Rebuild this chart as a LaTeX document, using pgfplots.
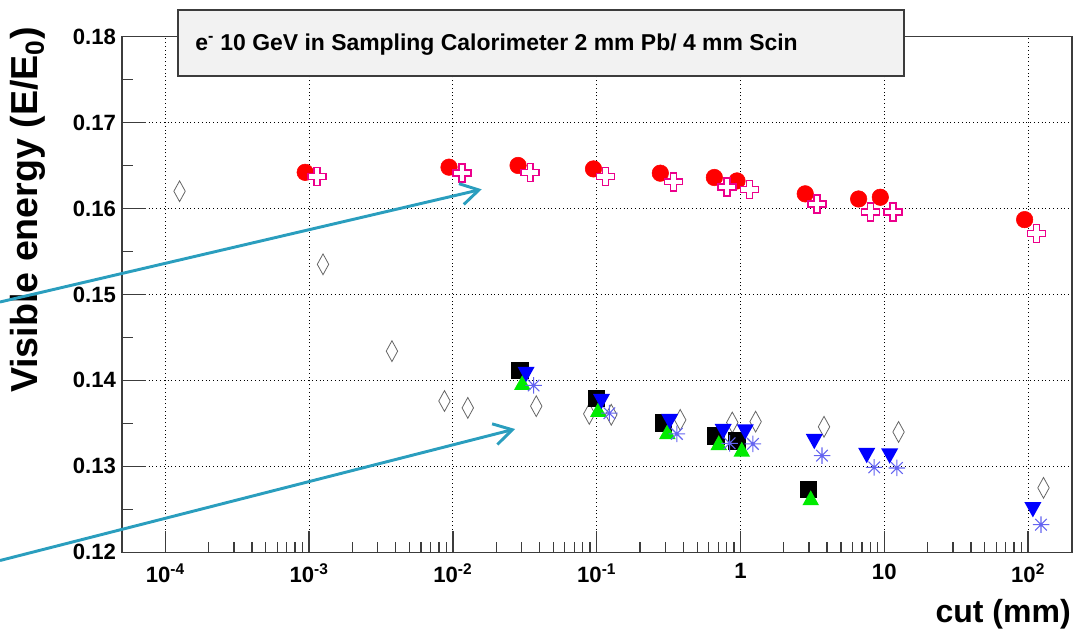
\documentclass[border=0pt]{standalone}
\usepackage{fontspec}
\setmainfont{Liberation Sans}
\usepackage{pgfplots}
\pgfplotsset{compat=1.18}
\usetikzlibrary{arrows.meta}

\definecolor{axgray}{RGB}{60,60,60}
\definecolor{starblue}{RGB}{100,100,240}
\definecolor{arrowcyan}{RGB}{42,158,190}
\definecolor{boxfill}{RGB}{242,242,242}

% open diamond, taller than wide
\pgfdeclareplotmark{tdiamond}{%
  \pgfpathmoveto{\pgfqpoint{0pt}{\pgfplotmarksize}}%
  \pgfpathlineto{\pgfqpoint{0.55\pgfplotmarksize}{0pt}}%
  \pgfpathlineto{\pgfqpoint{0pt}{-\pgfplotmarksize}}%
  \pgfpathlineto{\pgfqpoint{-0.55\pgfplotmarksize}{0pt}}%
  \pgfpathclose\pgfusepathqstroke}
% open plus-shaped cross
\pgfdeclareplotmark{ocross}{%
  \pgfpathmoveto{\pgfqpoint{0.33\pgfplotmarksize}{\pgfplotmarksize}}%
  \pgfpathlineto{\pgfqpoint{0.33\pgfplotmarksize}{0.33\pgfplotmarksize}}%
  \pgfpathlineto{\pgfqpoint{\pgfplotmarksize}{0.33\pgfplotmarksize}}%
  \pgfpathlineto{\pgfqpoint{\pgfplotmarksize}{-0.33\pgfplotmarksize}}%
  \pgfpathlineto{\pgfqpoint{0.33\pgfplotmarksize}{-0.33\pgfplotmarksize}}%
  \pgfpathlineto{\pgfqpoint{0.33\pgfplotmarksize}{-\pgfplotmarksize}}%
  \pgfpathlineto{\pgfqpoint{-0.33\pgfplotmarksize}{-\pgfplotmarksize}}%
  \pgfpathlineto{\pgfqpoint{-0.33\pgfplotmarksize}{-0.33\pgfplotmarksize}}%
  \pgfpathlineto{\pgfqpoint{-\pgfplotmarksize}{-0.33\pgfplotmarksize}}%
  \pgfpathlineto{\pgfqpoint{-\pgfplotmarksize}{0.33\pgfplotmarksize}}%
  \pgfpathlineto{\pgfqpoint{-0.33\pgfplotmarksize}{0.33\pgfplotmarksize}}%
  \pgfpathlineto{\pgfqpoint{-0.33\pgfplotmarksize}{\pgfplotmarksize}}%
  \pgfpathclose\pgfusepathqfillstroke}
% eight-spoke asterisk with a small centre dot
\pgfdeclareplotmark{star8}{%
  \pgfpathmoveto{\pgfqpoint{-\pgfplotmarksize}{0pt}}\pgfpathlineto{\pgfqpoint{\pgfplotmarksize}{0pt}}%
  \pgfpathmoveto{\pgfqpoint{0pt}{-\pgfplotmarksize}}\pgfpathlineto{\pgfqpoint{0pt}{\pgfplotmarksize}}%
  \pgfpathmoveto{\pgfqpoint{-0.7\pgfplotmarksize}{-0.7\pgfplotmarksize}}\pgfpathlineto{\pgfqpoint{0.7\pgfplotmarksize}{0.7\pgfplotmarksize}}%
  \pgfpathmoveto{\pgfqpoint{-0.7\pgfplotmarksize}{0.7\pgfplotmarksize}}\pgfpathlineto{\pgfqpoint{0.7\pgfplotmarksize}{-0.7\pgfplotmarksize}}%
  \pgfusepathqstroke
  \pgfpathcircle{\pgfpointorigin}{0.2\pgfplotmarksize}\pgfusepathqfill}
% filled triangles, up and down
\pgfdeclareplotmark{tup}{%
  \pgfpathmoveto{\pgfqpoint{-\pgfplotmarksize}{-0.9\pgfplotmarksize}}%
  \pgfpathlineto{\pgfqpoint{\pgfplotmarksize}{-0.9\pgfplotmarksize}}%
  \pgfpathlineto{\pgfqpoint{0pt}{0.9\pgfplotmarksize}}%
  \pgfpathclose\pgfusepathqfill}
\pgfdeclareplotmark{tdown}{%
  \pgfpathmoveto{\pgfqpoint{-\pgfplotmarksize}{0.9\pgfplotmarksize}}%
  \pgfpathlineto{\pgfqpoint{\pgfplotmarksize}{0.9\pgfplotmarksize}}%
  \pgfpathlineto{\pgfqpoint{0pt}{-0.9\pgfplotmarksize}}%
  \pgfpathclose\pgfusepathqfill}

\begin{document}
\begin{tikzpicture}
\useasboundingbox (0,0) rectangle ({1076*0.75pt},{-633*0.75pt});
% dotted grid layer
\begin{axis}[
  at={({122*0.75pt},{-552.3*0.75pt})}, anchor=south west,
  width={950*0.75pt}, height={515.8*0.75pt}, scale only axis,
  xmode=log, xmin=5e-5, xmax=202, ymin=0.12, ymax=0.18,
  xtick={1e-4,1e-3,1e-2,1e-1,1,10,100},
  ytick={0.12,0.13,0.14,0.15,0.16,0.17,0.18},
  axis line style={draw=none},
  xticklabels={}, yticklabels={},
  xminorticks=false, yminorticks=false,
  major tick length=0pt,
  tick style={draw=none},
  grid=major,
  major grid style={black, line width=0.65pt, dash pattern=on 0.65pt off 2.2pt},
]
\end{axis}
% frame, ticks, labels and data
\begin{axis}[
  at={({122*0.75pt},{-552.3*0.75pt})}, anchor=south west,
  width={950*0.75pt}, height={515.8*0.75pt}, scale only axis,
  xmode=log, xmin=5e-5, xmax=202, ymin=0.12, ymax=0.18,
  xtick={1e-4,1e-3,1e-2,1e-1,1,10,100},
  ytick={0.12,0.13,0.14,0.15,0.16,0.17,0.18},
  axis line style={axgray, line width=1.1pt},
  xticklabels={10\textsuperscript{-4},10\textsuperscript{-3},10\textsuperscript{-2},10\textsuperscript{-1},1,10,10\textsuperscript{2}},
  yticklabels={0.12,0.13,0.14,0.15,0.16,0.17,0.18},
  minor ytick={0.125,0.135,0.145,0.155,0.165,0.175},
  xtick pos=bottom, ytick pos=left, tick align=inside,
  major tick length=16pt, minor tick length=8pt,
  tick style={axgray, line width=1pt, solid},
  tick label style={font=\bfseries\fontsize{16.6}{18}\selectfont, text=black},
  yticklabel style={xshift=-1pt},
  xticklabel style={yshift=-5pt},
  clip=false,
]
% long ticks at the labelled decades and hundredths
\draw[axgray, line width=1pt]
  (axis cs:1e-4,0.12) -- ++(0pt,14.25pt)
  (axis cs:1e-3,0.12) -- ++(0pt,14.25pt)
  (axis cs:1e-2,0.12) -- ++(0pt,14.25pt)
  (axis cs:1e-1,0.12) -- ++(0pt,14.25pt)
  (axis cs:1,0.12) -- ++(0pt,14.25pt)
  (axis cs:10,0.12) -- ++(0pt,14.25pt)
  (axis cs:100,0.12) -- ++(0pt,14.25pt)
  (axis cs:5e-5,0.13) -- ++(18pt,0pt)
  (axis cs:5e-5,0.14) -- ++(18pt,0pt)
  (axis cs:5e-5,0.15) -- ++(18pt,0pt)
  (axis cs:5e-5,0.16) -- ++(18pt,0pt)
  (axis cs:5e-5,0.17) -- ++(18pt,0pt)
  (axis cs:5e-5,0.18) -- ++(18pt,0pt);
% diamonds
\addplot[only marks, mark=tdiamond, mark size=7.8pt, mark options={draw=black!60, line width=0.6pt}] coordinates {
 (1.257e-4,0.1620) (1.25e-3,0.1535) (3.77e-3,0.1434) (8.74e-3,0.1376) (0.0127,0.1368)
 (0.038,0.1370) (0.0888,0.1361) (0.1263,0.1360) (0.381,0.1354) (0.877,0.1351)
 (1.274,0.1352) (3.81,0.1346) (12.57,0.1340) (128,0.1275)};
% full circles
\addplot[only marks, mark=*, mark size=6.2pt, mark options={fill=red, draw=red}] coordinates {
 (9.4e-4,0.1642) (9.4e-3,0.1648) (0.0284,0.1650) (0.095,0.1646) (0.277,0.1641)
 (0.658,0.1636) (0.946,0.1632) (2.82,0.1617) (6.63,0.1611) (9.38,0.1613) (94.6,0.1587)};
% open crosses
\addplot[only marks, mark=ocross, mark size=6.75pt, mark options={draw=magenta, fill=white, line width=1.1pt}] coordinates {
 (1.135e-3,0.1637) (0.01156,0.1641) (0.0345,0.1642) (0.115,0.1637) (0.343,0.1631)
 (0.805,0.1625) (1.157,0.1622) (3.40,0.1605) (8.0,0.1596) (11.5,0.1596) (114,0.1571)};
% full squares
\addplot[only marks, mark=square*, mark size=6.2pt, mark options={fill=black, draw=black}] coordinates {
 (0.0291,0.14115) (0.0993,0.1379) (0.290,0.13506) (0.673,0.13358) (0.942,0.1330) (2.95,0.12732)};
% up triangles
\addplot[only marks, mark=tup, mark size=6.2pt, mark options={fill={rgb,255:red,0;green,235;blue,0}}] coordinates {
 (0.0304,0.13976) (0.1026,0.13661) (0.310,0.13404) (0.706,0.13276) (1.021,0.1320) (3.08,0.12635)};
% down triangles
\addplot[only marks, mark=tdown, mark size=6.4pt, mark options={fill=blue}] coordinates {
 (0.0323,0.14069) (0.108,0.13754) (0.322,0.13521) (0.758,0.13404) (1.08,0.13399)
 (3.26,0.13288) (7.55,0.13125) (10.9,0.13119) (108,0.12495)};
% asterisks
\addplot[only marks, mark=star8, mark size=6.2pt, mark options={draw=starblue, fill=starblue, line width=0.8pt}] coordinates {
 (0.0364,0.13941) (0.1225,0.13618) (0.361,0.13378) (0.840,0.13268) (1.22,0.13261)
 (3.69,0.13125) (8.51,0.12988) (12.25,0.12981) (123,0.12321)};
\end{axis}

% title box
\draw[axgray, line width=1.3pt, fill=boxfill] ({178*0.75pt},{-10*0.75pt}) rectangle ({904*0.75pt},{-75.7*0.75pt});
\node[anchor=base west, inner sep=0pt, font=\bfseries\fontsize{17.2}{19}\selectfont]
  at ({195*0.75pt},{-50*0.75pt}) {e\textsuperscript{-} 10 GeV in Sampling Calorimeter 2 mm Pb/ 4 mm Scin};

% axis titles
\node[rotate=90, anchor=base east, inner sep=0pt, font=\bfseries\fontsize{28.2}{30}\selectfont]
  at ({37*0.75pt},{-27*0.75pt}) {Visible energy (E/E\textsubscript{0})};
\node[anchor=base east, inner sep=0pt, font=\bfseries\fontsize{24}{26}\selectfont]
  at ({1071*0.75pt},{-622*0.75pt}) {cut (mm)};

% pointer arrows
\draw[arrowcyan, line width=2.2pt, -{Straight Barb[length=13.5pt, width=16pt, line width=2.2pt]}]
  ({0*0.75pt},{-302*0.75pt}) -- ({481.7*0.75pt},{-189.3*0.75pt});
\draw[arrowcyan, line width=2.2pt, -{Straight Barb[length=13.5pt, width=16pt, line width=2.2pt]}]
  ({0*0.75pt},{-560.5*0.75pt}) -- ({515*0.75pt},{-429*0.75pt});
\end{tikzpicture}
\end{document}
